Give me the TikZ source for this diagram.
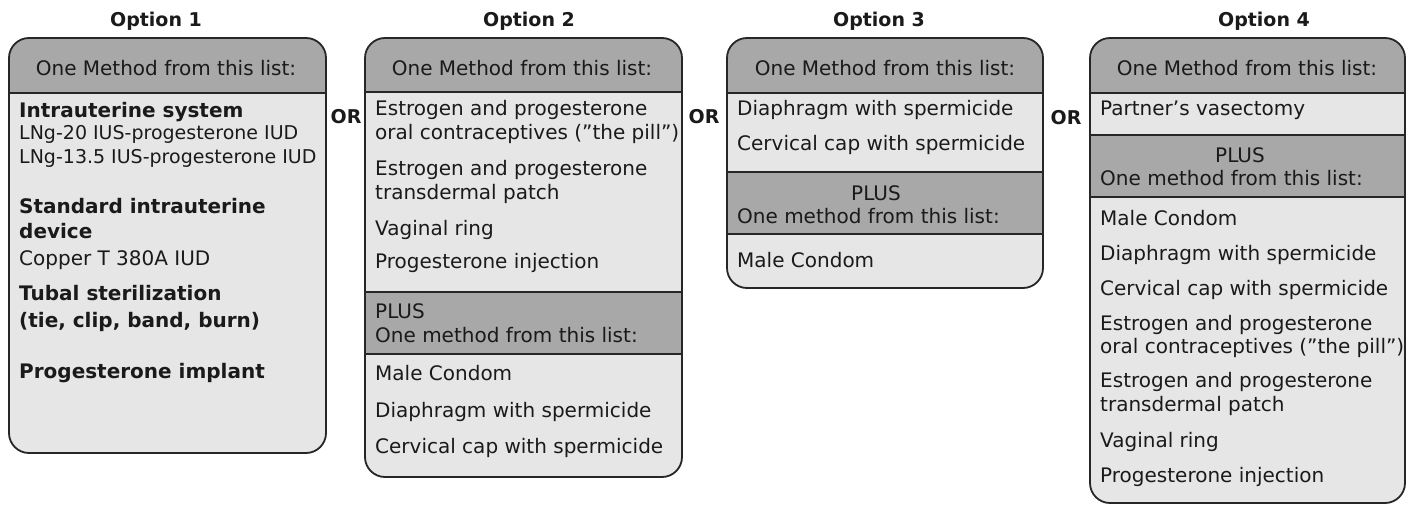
\documentclass[tikz,border=0pt]{standalone}
\usepackage{fontspec}
\setmainfont{DejaVu Sans}
\usetikzlibrary{positioning}
\definecolor{edge}{HTML}{262626}
\definecolor{headfill}{HTML}{A8A8A8}
\definecolor{bodyfill}{HTML}{E6E6E6}
\definecolor{ink}{HTML}{1A1A1A}
\begin{document}
\begin{tikzpicture}[
  x=1pt, y=-1pt,
  every node/.style={text=ink, inner sep=0pt},
  itm/.style={anchor=base west, font=\fontsize{20}{24}\selectfont},
  itms/.style={anchor=base west, font=\fontsize{19}{24}\selectfont},
  bitm/.style={anchor=base west, font=\fontsize{20}{24}\selectfont\bfseries},
  mid/.style={anchor=base, font=\fontsize{20}{24}\selectfont},
  ttl/.style={anchor=base, font=\fontsize{19}{24}\selectfont\bfseries},
  frame/.style={draw=edge, line width=1.8pt, rounded corners=20pt},
  sep/.style={draw=edge, line width=1.8pt},
]
\useasboundingbox (0,0) rectangle (1409,506);

% Option 1
\begin{scope}
  \clip[rounded corners=20pt] (9,38) rectangle (326,453);
  \fill[bodyfill] (9,38) rectangle (326,453);
  \fill[headfill] (9,38) rectangle (326,93);
\end{scope}
\draw[sep] (9,93) -- (326,93);
\draw[frame] (9,38) rectangle (326,453);
\node[ttl] (t1) at (156,26) {Option 1};
\node[mid] (h1) at (166,75) {One Method from this list:};
\foreach \t/\y [count=\k] in {Intrauterine system/117, Standard intrauterine/213, device/238,
    Tubal sterilization/300, {(tie, clip, band, burn)}/327, Progesterone implant/378}
  \node[bitm] (b1-\k) at (19,\y) {\t};
\foreach \t/\y [count=\k] in {LNg-20 IUS-progesterone IUD/139, LNg-13.5 IUS-progesterone IUD/163}
  \node[itms] (a1-\k) at (19,\y) {\t};
\node[itm] (a1-3) at (19,265) {Copper T 380A IUD};

\node[ttl] (or1) at (346,123) {OR};

% Option 2
\begin{scope}
  \clip[rounded corners=20pt] (365,38) rectangle (682,477);
  \fill[bodyfill] (365,38) rectangle (682,477);
  \fill[headfill] (365,38) rectangle (682,92) (365,292) rectangle (682,354);
\end{scope}
\draw[sep] (365,92) -- (682,92) (365,292) -- (682,292) (365,354) -- (682,354);
\draw[frame] (365,38) rectangle (682,477);
\node[ttl] (t2) at (529,26) {Option 2};
\node[mid] (h2) at (522,75) {One Method from this list:};
\foreach \t/\y [count=\k] in {Estrogen and progesterone/115, oral contraceptives (”the pill”)/139,
    Estrogen and progesterone/175, transdermal patch/199, Vaginal ring/235,
    Progesterone injection/268, PLUS/318, One method from this list:/342,
    Male Condom/380, Diaphragm with spermicide/417, Cervical cap with spermicide/453}
  \node[itm] (a2-\k) at (375,\y) {\t};

\node[ttl] (or2) at (704,123) {OR};

% Option 3
\begin{scope}
  \clip[rounded corners=20pt] (727,38) rectangle (1043,288);
  \fill[bodyfill] (727,38) rectangle (1043,288);
  \fill[headfill] (727,38) rectangle (1043,93) (727,172) rectangle (1043,234);
\end{scope}
\draw[sep] (727,93) -- (1043,93) (727,172) -- (1043,172) (727,234) -- (1043,234);
\draw[frame] (727,38) rectangle (1043,288);
\node[ttl] (t3) at (879,26) {Option 3};
\node[mid] (h3) at (885,75) {One Method from this list:};
\node[mid] (p3) at (876,200) {PLUS};
\foreach \t/\y [count=\k] in {Diaphragm with spermicide/115, Cervical cap with spermicide/150,
    One method from this list:/223, Male Condom/267}
  \node[itm] (a3-\k) at (737,\y) {\t};

\node[ttl] (or3) at (1066,124) {OR};

% Option 4
\begin{scope}
  \clip[rounded corners=20pt] (1090,38) rectangle (1405,503);
  \fill[bodyfill] (1090,38) rectangle (1405,503);
  \fill[headfill] (1090,38) rectangle (1405,93) (1090,135) rectangle (1405,197);
\end{scope}
\draw[sep] (1090,93) -- (1405,93) (1090,135) -- (1405,135) (1090,197) -- (1405,197);
\draw[frame] (1090,38) rectangle (1405,503);
\node[ttl] (t4) at (1264,26) {Option 4};
\node[mid] (h4) at (1247,75) {One Method from this list:};
\node[mid] (p4) at (1240,162) {PLUS};
\foreach \t/\y [count=\k] in {Partner’s vasectomy/115, One method from this list:/185,
    Male Condom/225, Diaphragm with spermicide/260, Cervical cap with spermicide/295,
    Estrogen and progesterone/330, oral contraceptives (”the pill”)/353,
    Estrogen and progesterone/387, transdermal patch/411, Vaginal ring/447,
    Progesterone injection/482}
  \node[itm] (a4-\k) at (1100,\y) {\t};
\end{tikzpicture}
\end{document}
